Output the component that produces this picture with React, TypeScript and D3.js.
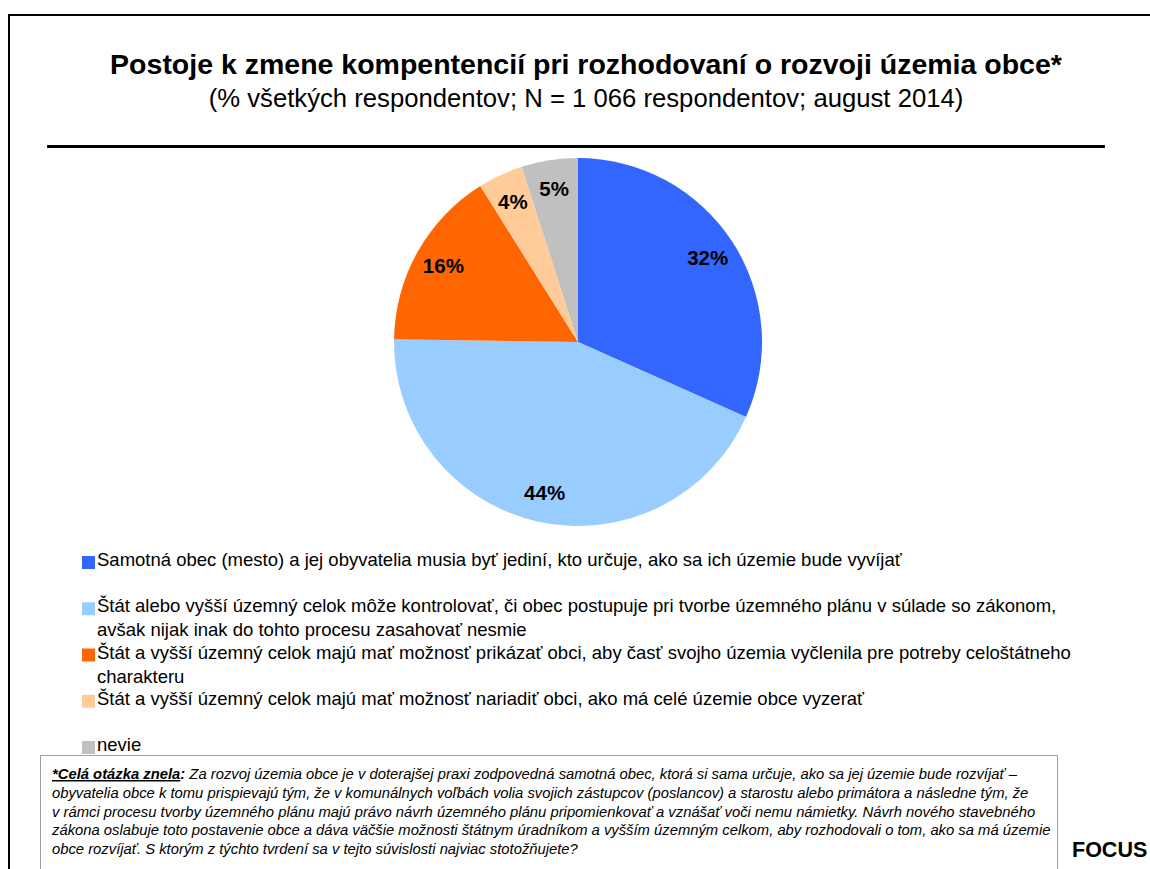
import React from "react";
import * as d3 from "d3";

const title = "Postoje k zmene kompentencií pri rozhodovaní o rozvoji územia obce*";
const subtitle = "(% všetkých respondentov; N = 1 066 respondentov; august 2014)";

const categories = [
  "Samotná obec (mesto) a jej obyvatelia musia byť jediní, kto určuje, ako sa ich územie bude vyvíjať",
  "Štát alebo vyšší územný celok môže kontrolovať, či obec postupuje pri tvorbe územného plánu v súlade so zákonom,\navšak nijak inak do tohto procesu zasahovať nesmie",
  "Štát a vyšší územný celok majú mať možnosť prikázať obci, aby časť svojho územia vyčlenila pre potreby celoštátneho\ncharakteru",
  "Štát a vyšší územný celok majú mať možnosť nariadiť obci, ako má celé územie obce vyzerať",
  "nevie",
];
const values = [32, 44, 16, 4, 5];
const colors = ["#3366FF", "#99CCFF", "#FF6600", "#FFCC99", "#C0C0C0"];

const noteLead = "*Celá otázka znela";
const noteLines = [
  " Za rozvoj územia obce je v doterajšej praxi zodpovedná samotná obec, ktorá si sama určuje, ako sa jej územie bude rozvíjať –",
  "obyvatelia obce k tomu prispievajú tým, že v komunálnych voľbách volia svojich zástupcov (poslancov) a starostu alebo primátora a následne tým, že",
  "v rámci procesu tvorby územného plánu majú právo návrh územného plánu pripomienkovať a vznášať voči nemu námietky. Návrh nového stavebného",
  "zákona oslabuje toto postavenie obce a dáva väčšie možnosti štátnym úradníkom a vyšším územným celkom, aby rozhodovali o tom, ako sa má územie",
  "obce rozvíjať. S ktorým z týchto tvrdení sa v tejto súvislosti najviac stotožňujete?",
];
const brand = "FOCUS";

const W = 1150;
const H = 869;
const font = "Arial, 'Liberation Sans', sans-serif";

export default function App() {
  const cx = 578;
  const cy = 342;
  const r = 184;

  const pie = d3.pie<number>().sort(null).value((d) => d);
  const arcs = pie(values);
  const arc = d3.arc<d3.PieArcDatum<number>>().innerRadius(0).outerRadius(r);
  const labelArc = d3
    .arc<d3.PieArcDatum<number>>()
    .innerRadius(r * 0.84)
    .outerRadius(r * 0.84);

  const rowY = d3
    .scalePoint<number>()
    .domain(categories.map((_, i) => i))
    .range([560, 745]);

  const noteY = d3
    .scalePoint<number>()
    .domain(noteLines.map((_, i) => i))
    .range([779, 854]);

  return (
    <svg
      width={W}
      height={H}
      style={{ position: "absolute", left: 0, top: 0, background: "#fff" }}
      fontFamily={font}
    >
      <rect x={0} y={0} width={W} height={H} fill="#fff" />
      <rect x={9} y={15} width={W + 20} height={H + 20} fill="none" stroke="#000" strokeWidth={2} />

      <text x={586} y={74} textAnchor="middle" fontSize={28.5} fontWeight="bold" fill="#000">
        {title}
      </text>
      <text x={586} y={107} textAnchor="middle" fontSize={25.7} fill="#000">
        {subtitle}
      </text>
      <line x1={47} x2={1105} y1={146.5} y2={146.5} stroke="#000" strokeWidth={3} />

      <g transform={`translate(${cx},${cy})`}>
        {arcs.map((a, i) => (
          <path key={i} d={arc(a) ?? ""} fill={colors[i]} />
        ))}
        {arcs.map((a, i) => {
          const [lx, ly] = labelArc.centroid(a);
          return (
            <text
              key={i}
              x={lx}
              y={ly}
              dy="0.35em"
              textAnchor="middle"
              fontSize={20.5}
              fontWeight="bold"
              fill="#000"
            >
              {`${values[i]}%`}
            </text>
          );
        })}
      </g>

      {categories.map((c, i) => {
        const y = rowY(i) ?? 0;
        return (
          <g key={i}>
            <rect x={82} y={y - 4} width={13} height={13} fill={colors[i]} />
            <text x={97} y={y + 6} fontSize={18.5} fill="#000">
              {c.split("\n").map((ln, j) => (
                <tspan key={j} x={97} dy={j === 0 ? 0 : 24}>
                  {ln}
                </tspan>
              ))}
            </text>
          </g>
        );
      })}

      <rect x={40.5} y={755.5} width={1017} height={130} fill="#fff" stroke="#a0a0a0" strokeWidth={1} />
      {noteLines.map((ln, i) => (
        <text key={i} x={52} y={noteY(i) ?? 0} fontSize={14.8} fontStyle="italic" fill="#000">
          {i === 0 && (
            <>
              <tspan fontWeight="bold" textDecoration="underline">
                {noteLead}
              </tspan>
              <tspan fontWeight="bold">:</tspan>
            </>
          )}
          <tspan>{ln}</tspan>
        </text>
      ))}
      <text x={1072} y={857} fontSize={21.5} fontWeight="bold" fill="#000">
        {brand}
      </text>
    </svg>
  );
}
